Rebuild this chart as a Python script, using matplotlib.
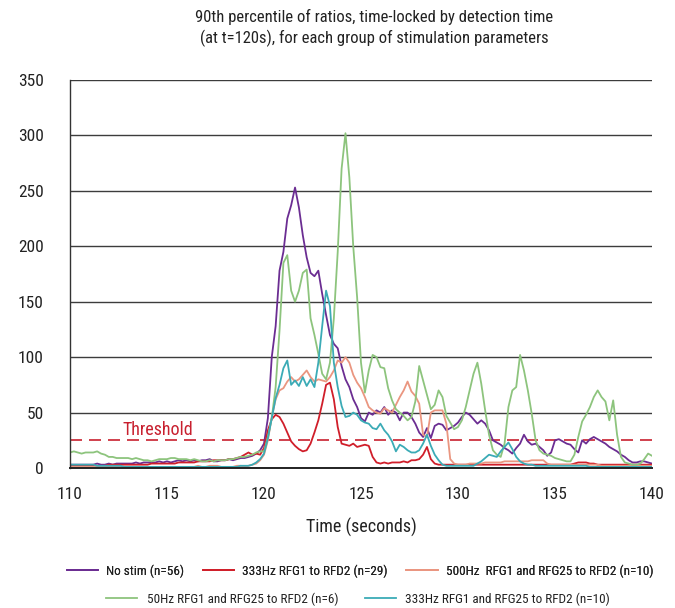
import numpy as np
import matplotlib
matplotlib.use("Agg")
import matplotlib.pyplot as plt
from matplotlib import font_manager

# ---------------- data ----------------
t_start, t_end, t_step = 110.0, 140.0, 0.2
x_ticks = [110, 115, 120, 125, 130, 135, 140]
y_ticks = [0, 50, 100, 150, 200, 250, 300, 350]
threshold = 25

labels = ["No stim (n=56)",
          "333Hz RFG1 to RFD2 (n=29)",
          "500Hz  RFG1 and RFG25 to RFD2 (n=10)",
          "50Hz RFG1 and RFG25 to RFD2 (n=6)",
          "333Hz RFG1 and RFG25 to RFD2 (n=10)"]

no_stim = [
    3, 3, 3, 3, 3,  3, 3, 4, 3, 3,  4, 3, 4, 4, 4,  4, 4, 5, 4, 5,
    5, 5, 5, 6, 5,  6, 5, 6, 7, 6,  7, 6, 7, 6, 7,  7, 8, 6, 6, 7,
    7, 8, 7, 8, 9,  9, 10, 11, 13, 16,
    22, 45, 100, 128, 178,  195, 225, 237, 253, 235,
    210, 190, 176, 173, 178,  157, 138, 120, 112, 108,
    92, 80, 73, 62, 55,  45, 42, 50, 48, 52,
    50, 55, 48, 52, 50,  43, 50, 50, 46, 40,
    32, 28, 36, 27, 38,  40, 39, 34, 36, 38,
    41, 46, 50, 48, 44,  40, 43, 40, 34, 25,
    23, 21, 18, 16, 13,  18, 22, 30, 24, 21,
    22, 19, 16, 11, 14,  25, 26, 24, 22, 21,
    17, 14, 25, 22, 26,  28, 26, 24, 22, 19,
    17, 15, 12, 10, 7,  5, 5, 6, 6, 5,
    4]

hz333_rfg1 = [
    2, 2, 2, 2, 2,  2, 2, 2, 2, 2,  3, 3, 3, 3, 3,  3, 3, 3, 3, 3,
    3, 4, 4, 4, 4,  4, 4, 4, 5, 5,  5, 5, 5, 6, 6,  6, 6, 7, 7, 7,
    7, 8, 8, 9, 10,  12, 14, 12, 13, 12,
    18, 34, 44, 48, 46,  40, 32, 24, 20, 17,
    15, 16, 22, 32, 43,  58, 75, 77, 62, 37,
    22, 21, 20, 22, 19,  20, 21, 20, 10, 5,
    4, 5, 4, 5, 5,  5, 6, 5, 7, 7,
    8, 12, 19, 8, 4,  3, 3, 3, 3, 3,
    3, 3, 3, 3, 3,  3, 3, 3, 3, 3,
    3, 3, 3, 3, 3,  3, 3, 3, 3, 3,
    3, 3, 3, 3, 3,  3, 3, 3, 3, 3,
    4, 5, 5, 5, 4,  4, 3, 3, 3, 3,
    3, 3, 3, 3, 3,  3, 3, 3, 3, 3,
    3]

hz500 = [
    1, 1, 1, 1, 1,  1, 1, 1, 1, 1,  1, 1, 1, 1, 1,  1, 1, 1, 1, 1,
    1, 1, 1, 1, 1,  1, 1, 1, 1, 1,  1, 1, 1, 2, 1,  1, 2, 2, 2, 1,
    1, 1, 1, 2, 2,  1, 2, 3, 4, 7,
    12, 25, 46, 62, 70,  72, 78, 82, 78, 80,
    84, 88, 82, 78, 80,  79, 78, 82, 88, 97,
    95, 100, 95, 84, 77,  72, 64, 55, 52, 50,
    49, 54, 52, 50, 57,  64, 70, 78, 69, 65,
    58, 30, 28, 50, 52,  52, 52, 40, 8, 4,
    3, 3, 3, 4, 4,  4, 4, 5, 5, 5,
    5, 5, 6, 6, 6,  6, 6, 6, 6, 7,
    7, 7, 7, 4, 3,  3, 3, 3, 3, 3,
    3, 3, 3, 3, 3,  3, 3, 2, 2, 2,
    2, 2, 2, 2, 2,  2, 2, 2, 2, 2,
    2]

hz50 = [
    14, 15, 14, 13, 14,  14, 14, 15, 13, 12,  10, 10, 9, 9, 9,  9, 8, 9, 8, 7,
    7, 6, 7, 8, 8,  8, 9, 9, 8, 8,  8, 7, 8, 7, 6,  6, 7, 6, 7, 7,
    7, 8, 8, 9, 10,  10, 11, 12, 14, 15,
    15, 28, 45, 73, 124,  185, 192, 160, 150, 160,
    176, 179, 135, 120, 103,  85, 80, 95, 135, 195,
    270, 302, 262, 200, 154,  95, 68, 88, 102, 100,
    91, 90, 72, 61, 53,  50, 47, 43, 46, 60,
    92, 79, 66, 53, 57,  70, 64, 47, 41, 35,
    37, 43, 55, 70, 85,  95, 76, 52, 30, 16,
    12, 10, 22, 55, 70,  73, 102, 88, 70, 49,
    25, 16, 13, 12, 11,  9, 8, 7, 6, 6,
    12, 28, 42, 48, 55,  64, 70, 64, 60, 43,
    61, 30, 10, 5, 4,  3, 3, 4, 8, 13,
    11]

hz333_rfg25 = [
    3, 3, 3, 3, 3,  3, 3, 2, 2, 2,  2, 2, 2, 2, 1,  1, 1, 1, 1, 1,
    1, 1, 1, 1, 1,  1, 1, 1, 1, 1,  1, 1, 1, 1, 1,  1, 1, 1, 1, 1,
    1, 1, 1, 1, 2,  2, 2, 3, 5, 8,
    13, 27, 45, 63, 75,  90, 97, 75, 79, 74,
    82, 74, 80, 73, 95,  128, 160, 146, 95, 73,
    56, 46, 47, 50, 48,  43, 41, 40, 36, 35,
    40, 34, 30, 24, 15,  21, 19, 16, 14, 14,
    16, 22, 30, 20, 12,  7, 3, 2, 2, 2,
    2, 2, 2, 2, 2,  4, 6, 9, 12, 11,
    10, 15, 19, 23, 17,  10, 6, 4, 3, 3,
    2, 2, 2, 2, 2,  2, 2, 2, 2, 2,
    2, 2, 2, 2, 1,  1, 1, 1, 1, 1,
    1, 1, 1, 1, 1,  1, 1, 1, 1, 1,
    1]

series = [no_stim, hz333_rfg1, hz500, hz50, hz333_rfg25]
colors = ["#6B2D92", "#D01E2A", "#EA9680", "#8DC47D", "#3BABB6"]

# ---------------- fonts ----------------
def pick_condensed():
    best = None
    for f in font_manager.fontManager.ttflist:
        name = f.name
        st = str(f.stretch).lower()
        fn = f.fname.lower()
        if f.style != 'normal':
            continue
        w = f.weight if isinstance(f.weight, int) else 400
        if w not in (400, 'normal') and not (350 <= w <= 450):
            continue
        cond = ('narrow' in name.lower() or 'condensed' in name.lower()
                or st in ('condensed', 'semi-condensed', 'extra-condensed')
                or 'condensed' in fn or 'narrow' in fn)
        if not cond:
            continue
        if 'mono' in name.lower() or 'serif' in name.lower() and 'sans' not in name.lower():
            continue
        score = 0
        if 'liberation' in name.lower():
            score = 3
        elif 'roboto' in name.lower() or 'open' in name.lower():
            score = 2
        elif 'dejavu' in name.lower():
            score = 1
        if best is None or score > best[0]:
            best = (score, f)
    return best[1] if best else None

cf = pick_condensed()
if cf is not None:
    FP = lambda size: font_manager.FontProperties(fname=cf.fname, size=size)
    scale = 1.0
else:
    FP = lambda size: font_manager.FontProperties(family='DejaVu Sans', size=size)
    scale = 0.85

W, H = 675, 608
fig = plt.figure(figsize=(W / 100, H / 100), dpi=100)
ax = fig.add_axes([70 / W, 1 - 468 / H, (652 - 70) / W, (468 - 80) / H])

n = int(round((t_end - t_start) / t_step)) + 1
times = np.linspace(t_start, t_end, n)

handles = []
for vals, col, lab in zip(series, colors, labels):
    h, = ax.plot(times, vals, color=col, lw=1.3, label=lab, solid_joinstyle='round')
    handles.append(h)

ax.axhline(threshold, color="#C8202F", lw=1.2, ls=(0, (7.2, 4.2)), zorder=1)
ax.text(112.7, 29.5, "Threshold", color="#C8202F", fontproperties=FP(13 * scale),
        va='baseline', ha='left')

ax.set_xlim(t_start, t_end)
ax.set_ylim(0, 350)
ax.set_xticks(x_ticks)
ax.set_yticks(y_ticks)
ax.tick_params(axis='both', length=0, colors='#222222')
ax.tick_params(axis='y', pad=19)
ax.tick_params(axis='x', pad=14)
for lab in ax.get_xticklabels() + ax.get_yticklabels():
    lab.set_fontproperties(FP(12.5 * scale))
ax.yaxis.grid(True, color='#3c3c3c', lw=1.0)
ax.set_axisbelow(True)
for s in ['top', 'right']:
    ax.spines[s].set_visible(False)
ax.spines['left'].set_color('#333333')
ax.spines['left'].set_linewidth(1.0)
ax.spines['bottom'].set_color('#222222')
ax.spines['bottom'].set_linewidth(1.4)

fig.text(361 / W, 1 - 527 / H, "Time (seconds)", ha='center', va='center',
         fontproperties=FP(13 * scale), color='#222222')
fig.text(374 / W, 1 - 28 / H,
         "90th percentile of ratios, time-locked by detection time\n(at t=120s), for each group of stimulation parameters",
         ha='center', va='center', fontproperties=FP(12 * scale), linespacing=1.35, color='#222222')

lp = FP(9.5 * scale)
leg1 = fig.legend(handles[:3], labels[:3], loc='center', bbox_to_anchor=(360 / W, 1 - 571 / H),
                  ncol=3, frameon=False, prop=lp, handlelength=2.4, handletextpad=0.6,
                  columnspacing=1.4, borderpad=0, labelcolor='#222222')
leg2 = fig.legend(handles[3:], labels[3:], loc='center', bbox_to_anchor=(358 / W, 1 - 599 / H),
                  ncol=2, frameon=False, prop=lp, handlelength=2.4, handletextpad=0.7,
                  columnspacing=2.0, borderpad=0, labelcolor='#222222')
fig.add_artist(leg1)

fig.savefig("out.png", dpi=100)
